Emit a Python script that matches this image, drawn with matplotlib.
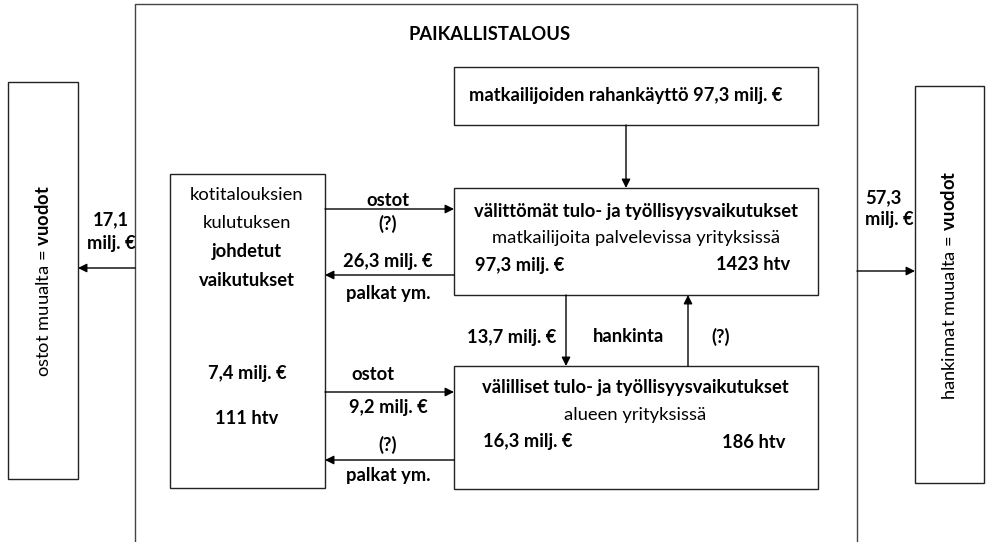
import matplotlib
matplotlib.use("Agg")
import matplotlib.pyplot as plt
from matplotlib.patches import Rectangle

plt.rcParams['font.family'] = ['Lato', 'DejaVu Sans']
plt.rcParams['mathtext.fontset'] = 'custom'
plt.rcParams['mathtext.rm'] = 'Lato'
plt.rcParams['mathtext.bf'] = 'Lato:bold'

# texts of the diagram
title = "PAIKALLISTALOUS"
spending = "matkailijoiden rahankäyttö 97,3 milj. €"
direct_lines = ["välittömät tulo- ja työllisyysvaikutukset", "matkailijoita palvelevissa yrityksissä"]
direct_values = ["97,3 milj. €", "1423 htv"]
indirect_lines = ["välilliset tulo- ja työllisyysvaikutukset", "alueen yrityksissä"]
indirect_values = ["16,3 milj. €", "186 htv"]
household_lines = ["kotitalouksien", "kulutuksen", "johdetut", "vaikutukset"]
household_bold = [False, False, True, True]
household_values = ["7,4 milj. €", "111 htv"]
leak_left = ["17,1", "milj. €"]
leak_right = ["57,3", "milj. €"]
left_box_text = "ostot muualta = $\\mathbf{vuodot}$"
right_box_text = "hankinnat muualta = $\\mathbf{vuodot}$"
flow_direct = ["ostot", "(?)", "26,3 milj. €", "palkat ym."]
flow_indirect = ["ostot", "9,2 milj. €", "(?)", "palkat ym."]
flow_vertical = ["13,7 milj. €", "hankinta", "(?)"]

FS = 13.2
LC = '#222222'

fig = plt.figure(figsize=(9.87, 5.42), dpi=100)
ax = fig.add_axes([0, 0, 1, 1])
ax.set_xlim(0, 987)
ax.set_ylim(542, 0)
ax.axis('off')


def box(x0, y0, x1, y1, lw=1.0, color=LC):
    ax.add_patch(Rectangle((x0, y0), x1 - x0, y1 - y0, fill=False, lw=lw, edgecolor=color))


def arrow(x0, y0, x1, y1):
    ax.annotate("", xy=(x1, y1), xytext=(x0, y0),
                arrowprops=dict(arrowstyle='-|>', mutation_scale=13, lw=1.0,
                                color='black', shrinkA=0, shrinkB=0))


def txt(x, y, s, bold=False, ha='center', **kw):
    ax.text(x, y, s, ha=ha, va='center', fontsize=FS,
            fontweight='bold' if bold else 'normal', color='black', **kw)


# outer frame of the local economy (open at the bottom)
ax.plot([135, 135, 857, 857], [560, 4, 4, 560], color='#444444', lw=1.0)
txt(490, 34, title, bold=True)

# side boxes
box(8, 82, 78, 479)
ax.text(43, 281, left_box_text, rotation=90, ha='center', va='center', fontsize=FS)
box(915, 86, 984, 483)
ax.text(949, 285, right_box_text, rotation=90, ha='center', va='center', fontsize=FS)

arrow(135, 268, 78, 268)
txt(111, 220, leak_left[0], bold=True)
txt(111, 243, leak_left[1], bold=True)
arrow(857, 271, 915, 271)
txt(865, 198, leak_right[0], bold=True, ha='left')
txt(865, 220, leak_right[1], bold=True, ha='left')

# spending box
box(454, 67, 818, 125)
txt(626, 95, spending, bold=True)
arrow(626, 125, 626, 188)

# direct effects box
box(454, 188, 818, 295)
txt(636, 211, direct_lines[0], bold=True)
txt(636, 238, direct_lines[1])
txt(475, 265, direct_values[0], bold=True, ha='left')
txt(790, 265, direct_values[1], bold=True, ha='right')

# indirect effects box
box(454, 366, 818, 489)
txt(635, 388, indirect_lines[0], bold=True)
txt(635, 415, indirect_lines[1])
txt(483, 442, indirect_values[0], bold=True, ha='left')
txt(785, 442, indirect_values[1], bold=True, ha='right')

# vertical flows between direct and indirect
arrow(566, 295, 566, 366)
arrow(688, 366, 688, 295)
txt(512, 337, flow_vertical[0], bold=True)
txt(629, 337, flow_vertical[1], bold=True)
txt(721, 337, flow_vertical[2], bold=True)

# household box
box(170, 174, 325, 488)
for i, (s, b) in enumerate(zip(household_lines, household_bold)):
    txt(247, 195 + i * 28.5, s, bold=b)
txt(247, 373, household_values[0], bold=True)
txt(247, 418, household_values[1], bold=True)

# flows between household and direct effects
arrow(325, 209, 454, 209)
txt(388, 200, flow_direct[0], bold=True)
txt(388, 224, flow_direct[1], bold=True)
txt(388, 261, flow_direct[2], bold=True)
arrow(454, 275, 325, 275)
txt(388, 293, flow_direct[3], bold=True)

# flows between household and indirect effects
arrow(325, 392, 454, 392)
txt(373, 375, flow_indirect[0], bold=True)
txt(388, 408, flow_indirect[1], bold=True)
txt(388, 445, flow_indirect[2], bold=True)
arrow(454, 460, 325, 460)
txt(388, 475, flow_indirect[3], bold=True)

fig.savefig("out.png", dpi=100)
